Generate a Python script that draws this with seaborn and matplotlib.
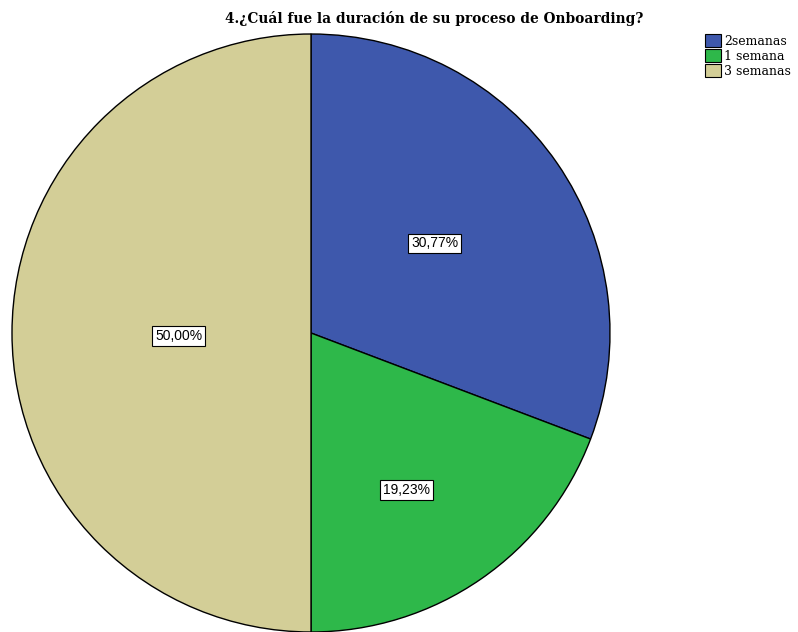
import matplotlib
matplotlib.use("Agg")
import matplotlib.pyplot as plt
import seaborn as sns

sns.set_theme(style="white")
plt.rcParams['font.family'] = ['Liberation Sans', 'DejaVu Sans']
plt.rcParams['text.color'] = 'black'

categories = ["2semanas", "1 semana", "3 semanas"]
values = [30.77, 19.23, 50.00]
labels_pct = ["30,77%", "19,23%", "50,00%"]
colors = ["#3E58AC", "#2EB84A", "#D3CE97"]
title = "4.¿Cuál fue la duración de su proceso de Onboarding?"

W, H = 798, 632
fig = plt.figure(figsize=(W / 100, H / 100), dpi=100)
cx, cy, r = 311, 333, 299
ax = fig.add_axes([(cx - r) / W, 1 - (cy + r) / H, 2 * r / W, 2 * r / H])

wedges, _ = ax.pie(values, colors=colors, startangle=90, counterclock=False,
                   wedgeprops=dict(edgecolor="black", linewidth=1.0))
ax.set_xlim(-1, 1)
ax.set_ylim(-1, 1)
ax.set_aspect("auto")

label_pos = [(0.413, 0.30), (0.32, -0.525), (-0.443, -0.01)]
for (x, y), t in zip(label_pos, labels_pct):
    ax.text(x, y, t, ha="center", va="center", fontsize=10, color="black",
            bbox=dict(boxstyle="square,pad=0.2", facecolor="white", edgecolor="black", linewidth=0.8))

fig.text(434 / W, 1 - 18 / H, title, ha="center", va="center", fontsize=9.9,
         fontweight="bold", color="black", family=["DejaVu Serif"])

leg = fig.legend(wedges, categories, loc="upper left", bbox_to_anchor=(705 / W, 1 - 34 / H),
                 frameon=False, prop={"family": "DejaVu Serif", "size": 9},
                 handlelength=1.3, handleheight=1.2, handletextpad=0.2, labelspacing=0.12,
                 borderpad=0, borderaxespad=0, labelcolor="black")
for h in leg.legend_handles:
    h.set_edgecolor("black")
    h.set_linewidth(0.8)

fig.savefig("out.png", dpi=100)
